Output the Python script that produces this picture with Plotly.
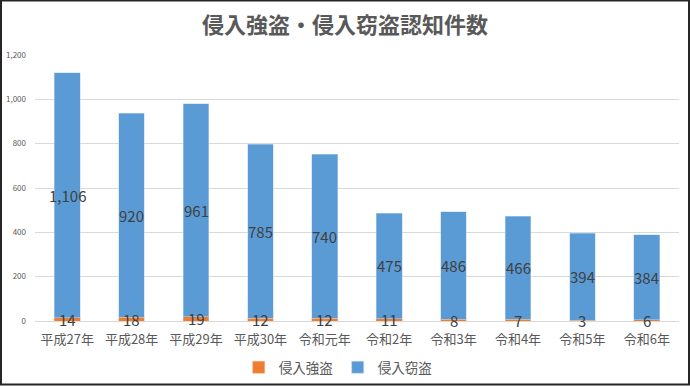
import plotly.graph_objects as go

categories = ["平成27年", "平成28年", "平成29年", "平成30年", "令和元年",
              "令和2年", "令和3年", "令和4年", "令和5年", "令和6年"]
robbery = [14, 18, 19, 12, 12, 11, 8, 7, 3, 6]
burglary = [1106, 920, 961, 785, 740, 475, 486, 466, 394, 384]

FONT = "Noto Sans CJK JP, Noto Sans, sans-serif"
ORANGE = "#ED7D31"
BLUE = "#5B9BD5"

fig = go.Figure()
fig.add_trace(go.Bar(x=categories, y=robbery, name="侵入強盗",
                     marker=dict(color=ORANGE, line=dict(color="#F4B183", width=0.5)),
                     width=0.4, hoverinfo="x+y+name"))
fig.add_trace(go.Bar(x=categories, y=burglary, name="侵入窃盗",
                     marker=dict(color=BLUE, line=dict(color="#BDD7EE", width=0.5)),
                     width=0.4, hoverinfo="x+y+name"))

# data labels centred in each segment
annotations = []
for c, r, b in zip(categories, robbery, burglary):
    annotations.append(dict(x=c, y=r / 2, xref="x", yref="y", text=f"{r:,}",
                            showarrow=False,
                            font=dict(size=15, color="#404040", family=FONT)))
    annotations.append(dict(x=c, y=r + b / 2, xref="x", yref="y", text=f"{b:,}",
                            showarrow=False,
                            font=dict(size=15, color="#404040", family=FONT)))

fig.update_layout(
    barmode="stack",
    width=690, height=386,
    margin=dict(l=35, r=11, t=55, b=64.5, autoexpand=False),
    paper_bgcolor="white", plot_bgcolor="white",
    font=dict(family=FONT, color="#595959"),
    title=dict(text="<b>侵入強盗・侵入窃盗認知件数</b>", x=0.5, xanchor="center",
               y=1 - 25 / 386, yanchor="middle",
               font=dict(size=22, color="#595959", family=FONT)),
    legend=dict(orientation="h", x=0.47, xanchor="center", y=-0.175,
                yanchor="middle",
                font=dict(size=13.5, color="#595959", family=FONT),
                itemwidth=30, traceorder="normal"),
    xaxis=dict(showgrid=False, showline=True, linecolor="#D9D9D9", linewidth=1,
               tickfont=dict(size=13, color="#595959", family=FONT), ticks="",
               ticklabelstandoff=6, automargin=False),
    yaxis=dict(range=[0, 1200], dtick=200, tickformat=",", showgrid=True,
               gridcolor="#D9D9D9", gridwidth=1, zeroline=False, showline=False,
               tickfont=dict(size=8, color="#595959", family=FONT), ticks="",
               ticklabelstandoff=8, automargin=False),
    annotations=annotations,
    shapes=[dict(type="rect", xref="paper", yref="paper",
                 x0=-34 / 644, x1=1 + 10 / 644, y0=-63.5 / 266.5, y1=1 + 54.5 / 266.5,
                 line=dict(color="#262626", width=2), fillcolor="rgba(0,0,0,0)")],
)

fig.write_html("out.html", config={"displayModeBar": False},
               post_script="document.body.style.margin='0';document.body.style.padding='0';")
